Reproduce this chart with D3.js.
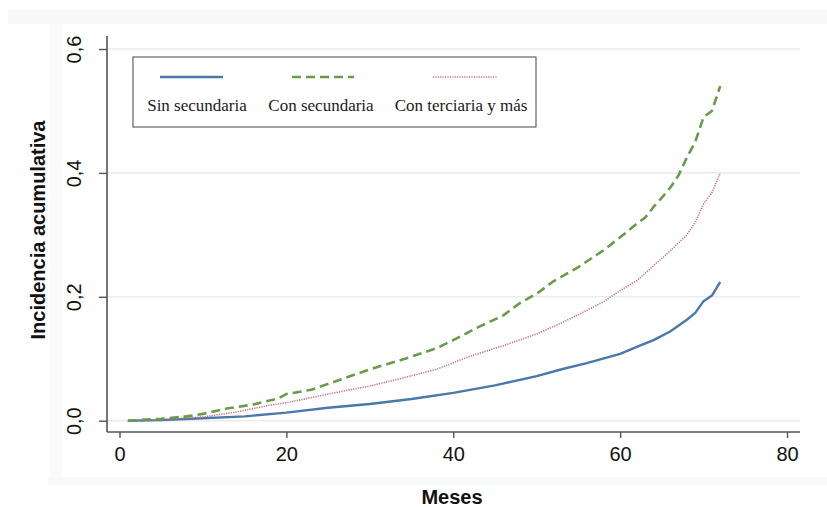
<!DOCTYPE html>
<html>
<head>
<meta charset="utf-8">
<script src="https://cdn.jsdelivr.net/npm/d3@7"></script>
<style>
  body { margin: 0; background: #fff; }
  svg { display: block; }
</style>
</head>
<body>
<svg class="chart" width="827" height="507"></svg>
<script>
// series (months, cumulative incidence)
var mesesSin = [1, 5, 10, 15, 20, 25, 30, 35, 40, 45, 50, 53, 56, 60, 62, 64, 66, 68, 69, 70, 71, 72];
var sinSecundaria = [0, 0.001, 0.004, 0.007, 0.013, 0.021, 0.027, 0.035, 0.045, 0.057, 0.072, 0.083, 0.093, 0.108, 0.119, 0.130, 0.144, 0.163, 0.174, 0.193, 0.202, 0.224];

var mesesCon = [1, 5, 8, 10, 13, 16, 19, 20, 23, 26, 30, 34, 38, 40, 43, 46, 48, 50, 52, 55, 58, 60, 62, 63, 64, 65, 66, 67, 68, 69, 70, 71, 72];
var conSecundaria = [0, 0.003, 0.007, 0.011, 0.02, 0.026, 0.036, 0.043, 0.05, 0.064, 0.083, 0.099, 0.117, 0.13, 0.151, 0.17, 0.19, 0.205, 0.225, 0.248, 0.275, 0.296, 0.318, 0.328, 0.345, 0.36, 0.376, 0.396, 0.425, 0.45, 0.49, 0.5, 0.54];

var mesesTer = [1, 5, 10, 14, 18, 20, 25, 30, 34, 38, 42, 46, 50, 53, 56, 58, 60, 62, 64, 66, 68, 69, 70, 71, 72];
var conTerciaria = [0, 0.002, 0.006, 0.014, 0.025, 0.029, 0.043, 0.056, 0.069, 0.083, 0.104, 0.121, 0.14, 0.158, 0.178, 0.192, 0.21, 0.226, 0.25, 0.274, 0.3, 0.32, 0.35, 0.368, 0.40];

var seriesNames = ["Sin secundaria", "Con secundaria", "Con terciaria y más"];
var xTicks = [0, 20, 40, 60, 80];
var yTicks = [0, 0.2, 0.4, 0.6];

var colors = ["#4a78ab", "#6a9a4a", "#c9737f"];
var dashes = [null, "9,5", "1.2,1.2"];
var widths = [2.4, 2.6, 1.6];

var svg = d3.select(".chart");

// faint scan background bands
svg.append("rect").attr("x", 8).attr("y", 10).attr("width", 819).attr("height", 14).attr("fill", "#f8f9f9");
svg.append("rect").attr("x", 50).attr("y", 24).attr("width", 12).attr("height", 460).attr("fill", "#f9fafa");
svg.append("rect").attr("x", 48).attr("y", 477).attr("width", 779).attr("height", 8).attr("fill", "#f8f9f9");

var xScale = d3.scaleLinear().domain([0, 80]).range([119.5, 787]);
var yScale = d3.scaleLinear().domain([0, 0.6]).range([420.7, 49]);

var comma = function(d) { return d3.format(".1f")(d).replace(".", ","); };

// gridlines
svg.append("g").selectAll("line").data(yTicks).enter().append("line")
    .attr("x1", 108).attr("x2", 800)
    .attr("y1", d => yScale(d)).attr("y2", d => yScale(d))
    .attr("stroke", "#e6eef0").attr("stroke-width", 1.6);

// y axis
var yAxis = svg.append("g").attr("transform", "translate(107,0)")
    .call(d3.axisLeft(yScale).tickValues(yTicks).tickSize(8).tickFormat(comma));
yAxis.select(".domain").remove();
yAxis.selectAll(".tick line").attr("stroke", "#555").attr("stroke-width", 1.4);
yAxis.selectAll(".tick text")
    .attr("transform", "rotate(-90)")
    .attr("x", 0).attr("y", -33).attr("dy", "0.35em")
    .attr("text-anchor", "middle")
    .style("font-family", "Liberation Sans, Arial, sans-serif")
    .style("font-size", "20px").attr("fill", "#111");
svg.append("line").attr("x1", 107).attr("x2", 107).attr("y1", 36).attr("y2", 432)
    .attr("stroke", "#555").attr("stroke-width", 1.6);

// x axis
var xAxis = svg.append("g").attr("transform", "translate(0,432)")
    .call(d3.axisBottom(xScale).tickValues(xTicks).tickSize(6).tickPadding(9));
xAxis.select(".domain").remove();
xAxis.selectAll(".tick line").attr("stroke", "#555").attr("stroke-width", 1.4);
xAxis.selectAll(".tick text")
    .style("font-family", "Liberation Sans, Arial, sans-serif")
    .style("font-size", "20px").attr("fill", "#111");
svg.append("line").attr("x1", 107).attr("x2", 800).attr("y1", 432).attr("y2", 432)
    .attr("stroke", "#555").attr("stroke-width", 1.6);

// axis titles
svg.append("text").attr("x", 452).attr("y", 504)
    .attr("text-anchor", "middle")
    .style("font-family", "Liberation Sans, Arial, sans-serif")
    .style("font-size", "20px").style("font-weight", "bold").attr("fill", "#111")
    .text("Meses");
svg.append("text").attr("transform", "translate(45,230) rotate(-90)")
    .attr("text-anchor", "middle")
    .style("font-family", "Liberation Sans, Arial, sans-serif")
    .style("font-size", "20px").style("font-weight", "bold").attr("fill", "#111")
    .text("Incidencia acumulativa");

// lines
var allSeries = [
    d3.zip(mesesSin, sinSecundaria),
    d3.zip(mesesCon, conSecundaria),
    d3.zip(mesesTer, conTerciaria)
];
var line = d3.line().x(d => xScale(d[0])).y(d => yScale(d[1]));

// draw blue first, then dotted, then dashed on top
[0, 2, 1].forEach(function(i) {
    svg.append("path").datum(allSeries[i])
        .attr("d", line)
        .attr("fill", "none")
        .attr("stroke", colors[i])
        .attr("stroke-width", widths[i])
        .attr("stroke-dasharray", dashes[i])
        .attr("stroke-linejoin", "round");
});

// legend
var lg = svg.append("g");
lg.append("rect").attr("x", 133).attr("y", 57).attr("width", 403).attr("height", 70)
    .attr("fill", "#fff").attr("stroke", "#444").attr("stroke-width", 1);
var sampleX = [[160, 223], [292, 354], [433, 497]];
var labelX = [197, 321, 461];
seriesNames.forEach(function(name, i) {
    lg.append("line")
        .attr("x1", sampleX[i][0]).attr("x2", sampleX[i][1])
        .attr("y1", 77).attr("y2", 77)
        .attr("stroke", colors[i]).attr("stroke-width", widths[i])
        .attr("stroke-dasharray", dashes[i]);
    lg.append("text").attr("x", labelX[i]).attr("y", 111)
        .attr("text-anchor", "middle")
        .style("font-family", "Liberation Serif, Times New Roman, serif")
        .style("font-size", "17px").attr("fill", "#1a1a1a")
        .text(name);
});
</script>
</body>
</html>
